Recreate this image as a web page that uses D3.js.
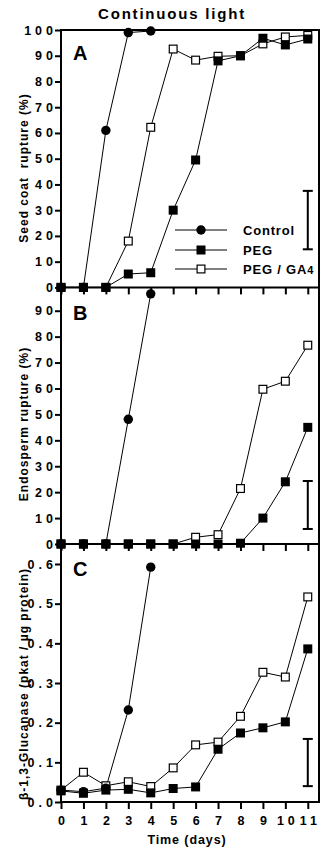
<!DOCTYPE html>
<html>
<head>
<meta charset="utf-8">
<script src="https://cdn.jsdelivr.net/npm/d3@7"></script>
<style>
  html, body { margin: 0; padding: 0; background: #fff; }
  svg { display: block; }
  text { font-family: "Liberation Sans", Arial, Helvetica, sans-serif; font-weight: bold; fill: #000; }
</style>
</head>
<body>
<svg id="chart" width="332" height="861"></svg>
<script>
// Sampling days
const days = [0, 1, 2, 3, 4, 5, 6, 7, 8, 9, 10, 11];
const controlDays = [0, 1, 2, 3, 4];

// A: seed coat rupture (%)
const seedControl = [0, 0, 61, 99, 99.6];
const seedPEG = [0, 0, 0, 5.2, 5.7, 30, 49.5, 88, 90, 96.8, 94.2, 96.5];
const seedPEGGA4 = [0, 0, 0, 18, 62.2, 92.6, 88.3, 89.8, 90, 94.6, 97.3, 97.9];

// B: endosperm rupture (%)
const endoControl = [0, 0, 0, 48.1, 96.5];
const endoPEG = [0, 0, 0, 0, 0, 0, 0, 0, 0.3, 10, 24, 45];
const endoPEGGA4 = [0, 0, 0, 0, 0, 0, 2.6, 3.6, 21.4, 59.7, 62.8, 76.7];

// C: beta-1,3-glucanase activity (pkat / ug protein)
const glucControl = [0.030, 0.026, 0.035, 0.232, 0.592];
const glucPEG = [0.028, 0.022, 0.030, 0.032, 0.023, 0.034, 0.038, 0.133, 0.174, 0.187, 0.202, 0.386];
const glucPEGGA4 = [0.030, 0.075, 0.041, 0.051, 0.039, 0.086, 0.144, 0.151, 0.216, 0.327, 0.315, 0.517];

// Representative error bars (low, high), drawn at day 11
const seedErr = [14.8, 37.5];
const endoErr = [5.8, 24.3];
const glucErr = [0.040, 0.159];

const seriesNames = ["Control", "PEG", "PEG / GA4"];
const percentTicksA = [0, 10, 20, 30, 40, 50, 60, 70, 80, 90, 100];
const percentTicksB = [0, 10, 20, 30, 40, 50, 60, 70, 80, 90];
const glucTicks = [0, 0.1, 0.2, 0.3, 0.4, 0.5, 0.6];

const svg = d3.select("#chart");
const plotLeft = 61, plotRight = 319, plotTop = 30;
const bounds = [30, 287.4, 544, 802];

const x = d3.scaleLinear().domain([0, 11.5]).range([plotLeft, plotRight]);

const panels = [
  { letter: "A", y: d3.scaleLinear().domain([0, 100]).range([bounds[1], bounds[0]]),
    ticks: percentTicksA, fmt: d3.format("d"),
    control: seedControl, peg: seedPEG, ga: seedPEGGA4, err: seedErr,
    label: "Seed coat  rupture (%)", labelY: 168 },
  { letter: "B", y: d3.scaleLinear().domain([0, 100]).range([bounds[2], 284.8]),
    ticks: percentTicksB, fmt: d3.format("d"),
    control: endoControl, peg: endoPEG, ga: endoPEGGA4, err: endoErr,
    label: "Endosperm rupture (%)", labelY: 424 },
  { letter: "C", y: d3.scaleLinear().domain([0, 0.6]).range([bounds[3], 564]),
    ticks: glucTicks, fmt: d3.format(".1f"),
    control: glucControl, peg: glucPEG, ga: glucPEGGA4, err: glucErr,
    label: "\u03b2-1,3-Glucanase (pkat / \u00b5g protein)", labelY: 684 }
];

// Title
svg.append("text")
  .attr("x", 172).attr("y", 18.5)
  .attr("text-anchor", "middle")
  .style("font-size", "15px")
  .style("letter-spacing", "1.8px")
  .text("Continuous light");

const tickLS = 4;

panels.forEach((p, i) => {
  const pb = bounds[i + 1];

  // Left axis ticks and labels
  const ya = svg.append("g")
    .attr("transform", `translate(${plotLeft},0)`)
    .call(d3.axisLeft(p.y).tickValues(p.ticks).tickFormat(p.fmt).tickSize(6).tickPadding(2));
  ya.select(".domain").remove();
  ya.selectAll(".tick line").attr("stroke", "#000").attr("stroke-width", 2);
  ya.selectAll(".tick text")
    .attr("font-family", null).attr("font-size", null)
    .style("font-size", "12.5px")
    .style("letter-spacing", tickLS + "px")
    .attr("x", -8 + tickLS);

  // Bottom ticks for each panel
  const xa = svg.append("g")
    .attr("transform", `translate(0,${pb})`)
    .call(d3.axisBottom(x).tickValues(days).tickSize(7).tickPadding(7)
      .tickFormat(i === 2 ? d3.format("d") : () => ""));
  xa.select(".domain").remove();
  xa.selectAll(".tick line").attr("stroke", "#000").attr("stroke-width", 2);
  xa.selectAll(".tick text")
    .attr("font-family", null).attr("font-size", null)
    .style("font-size", "12.5px")
    .style("letter-spacing", tickLS + "px")
    .attr("dx", tickLS / 2);

  // Panel letter
  svg.append("text")
    .attr("x", 73).attr("y", [60, 320, 576][i])
    .style("font-size", "20px")
    .text(p.letter);

  // Y axis title
  svg.append("text")
    .attr("transform", `translate(27.5,${p.labelY}) rotate(-90)`)
    .attr("text-anchor", "middle")
    .style("font-size", "12px")
    .style("letter-spacing", "1px")
    .style("white-space", "pre")
    .text(p.label);

  // Error bar
  const ex = x(11);
  const eg = svg.append("g").attr("stroke", "#000").attr("stroke-width", 2);
  eg.append("line").attr("x1", ex).attr("x2", ex).attr("y1", p.y(p.err[0])).attr("y2", p.y(p.err[1]));
  eg.append("line").attr("x1", ex - 5).attr("x2", ex + 5).attr("y1", p.y(p.err[0])).attr("y2", p.y(p.err[0]));
  eg.append("line").attr("x1", ex - 5).attr("x2", ex + 5).attr("y1", p.y(p.err[1])).attr("y2", p.y(p.err[1]));

  const line = d3.line().x(d => x(d[0])).y(d => p.y(d[1]));
  const ctrl = controlDays.map((d, k) => [d, p.control[k]]);
  const peg = days.map((d, k) => [d, p.peg[k]]);
  const ga = days.map((d, k) => [d, p.ga[k]]);

  const g = svg.append("g");
  [ga, peg, ctrl].forEach(s => {
    g.append("path").attr("d", line(s)).attr("fill", "none")
      .attr("stroke", "#000").attr("stroke-width", 1);
  });

  const sq = 9;
  g.selectAll(null).data(ga).join("rect")
    .attr("x", d => x(d[0]) - sq / 2 + 0.6).attr("y", d => p.y(d[1]) - sq / 2 + 0.6)
    .attr("width", sq - 1.2).attr("height", sq - 1.2)
    .attr("fill", "#fff").attr("stroke", "#000").attr("stroke-width", 1.2);
  g.selectAll(null).data(peg).join("rect")
    .attr("x", d => x(d[0]) - sq / 2).attr("y", d => p.y(d[1]) - sq / 2)
    .attr("width", sq).attr("height", sq)
    .attr("fill", "#000");
  g.selectAll(null).data(ctrl).join("circle")
    .attr("cx", d => x(d[0])).attr("cy", d => p.y(d[1]))
    .attr("r", 4.7).attr("fill", "#000");
});

// Frame and panel separators
const frame = svg.append("g").attr("stroke", "#000").attr("stroke-width", 2).attr("fill", "none");
frame.append("rect").attr("x", plotLeft).attr("y", plotTop)
  .attr("width", plotRight - plotLeft).attr("height", bounds[3] - plotTop);
frame.append("line").attr("x1", plotLeft).attr("x2", plotRight).attr("y1", bounds[1]).attr("y2", bounds[1]);
frame.append("line").attr("x1", plotLeft).attr("x2", plotRight).attr("y1", bounds[2]).attr("y2", bounds[2]);

// X axis title
svg.append("text")
  .attr("x", 187).attr("y", 844)
  .attr("text-anchor", "middle")
  .style("font-size", "12.5px")
  .style("letter-spacing", "0.9px")
  .text("Time (days)");

// Legend
const legendY = [230, 250, 269];
const lg = svg.append("g");
seriesNames.forEach((name, k) => {
  const ly = legendY[k];
  lg.append("line").attr("x1", 175).attr("x2", 227).attr("y1", ly).attr("y2", ly)
    .attr("stroke", "#000").attr("stroke-width", 1);
  if (k === 0) {
    lg.append("circle").attr("cx", 201).attr("cy", ly).attr("r", 4.7).attr("fill", "#000");
  } else if (k === 1) {
    lg.append("rect").attr("x", 196.5).attr("y", ly - 4.5).attr("width", 9).attr("height", 9).attr("fill", "#000");
  } else {
    lg.append("rect").attr("x", 197.1).attr("y", ly - 3.9).attr("width", 7.8).attr("height", 7.8)
      .attr("fill", "#fff").attr("stroke", "#000").attr("stroke-width", 1.2);
  }
  const t = lg.append("text").attr("x", 243).attr("y", ly + 4.6)
    .style("font-size", "13px").style("letter-spacing", "0.8px");
  if (name.endsWith("GA4")) {
    t.append("tspan").text("PEG / GA");
    t.append("tspan").style("font-size", "11px").text("4");
  } else {
    t.text(name);
  }
});
</script>
</body>
</html>
